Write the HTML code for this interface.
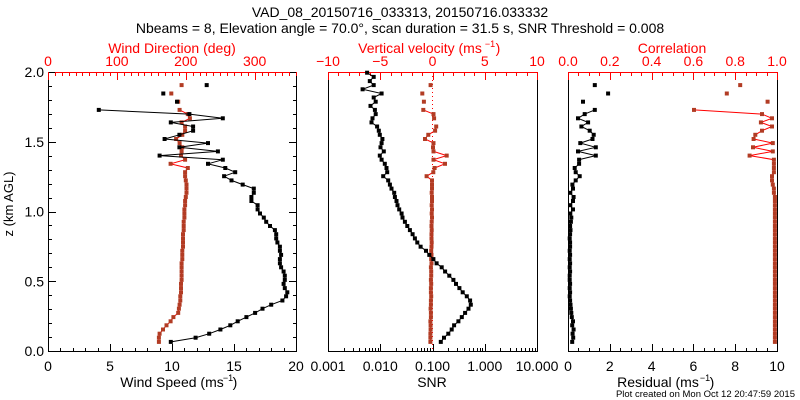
<!DOCTYPE html>
<html><head><meta charset="utf-8"><style>
html,body{margin:0;padding:0;background:#fff;}
svg{display:block;font-family:"Liberation Sans",sans-serif;}
</style></head><body>
<svg id="chart" width="800" height="400" viewBox="0 0 800 400">
<text x="400" y="17" text-anchor="middle" font-size="14">VAD_08_20150716_033313, 20150716.033332</text>
<text x="400" y="33" text-anchor="middle" font-size="14">Nbeams = 8, Elevation angle = 70.0°, scan duration = 31.5 s, SNR Threshold = 0.008</text>
<text x="20" y="211" text-anchor="middle" font-size="13" transform="rotate(-90 13 211)">z (km AGL)</text>
<text x="795" y="397" text-anchor="end" font-size="9.5">Plot created on Mon Oct 12 20:47:59 2015</text>
<g id="g"></g>
</svg>
<script>
const heights=[0.065,0.095,0.124,0.154,0.184,0.213,0.243,0.273,0.303,0.332,0.362,0.392,0.421,0.451,0.481,0.510,0.540,0.570,0.600,0.629,0.659,0.689,0.718,0.748,0.778,0.807,0.837,0.867,0.896,0.926,0.956,0.986,1.015,1.045,1.075,1.104,1.134,1.164,1.193,1.223,1.253,1.282,1.312,1.342,1.371,1.401,1.431,1.460,1.490,1.520,1.550,1.579,1.609,1.639,1.668,1.698,1.728,1.757,1.787,1.817,1.846,1.876,1.906,1.935,1.965,1.995];
const windSpeed=[9.9,11.9,13.0,13.9,14.7,15.3,16.0,16.7,17.3,18.0,18.9,19.2,19.3,19.1,19.0,19.1,19.1,19.0,18.8,18.7,18.7,18.8,18.7,18.7,18.5,18.4,18.4,18.3,17.9,17.6,17.4,17.1,16.9,16.9,16.4,16.4,16.6,16.6,15.7,14.8,14.2,15.1,14.3,12.9,14.1,9.0,13.7,10.6,12.9,9.4,10.6,11.7,11.7,9.9,14.1,11.4,4.1,null,10.4,null,9.3,null,12.8,null,null,null];
const windDir=[161,161,162,167,172,178,182,189,190,191,192,192,193,193,193,194,194,194,194,194,195,195,195,196,196,196,196,197,197,197,198,198,198,199,199,200,201,201,201,200,199,199,203,178,199,193,194,195,191,186,195,199,199,194,206,203,191,null,189,null,179,null,194,null,null,null];
const snr=[0.144,0.166,0.201,0.233,0.259,0.313,0.363,0.421,0.488,0.541,0.525,0.453,0.379,0.327,0.282,0.251,0.210,0.174,0.150,0.120,0.104,0.0869,0.0750,0.0593,0.0512,0.0461,0.0416,0.0370,0.0329,0.0296,0.0267,0.0256,0.0231,0.0214,0.0205,0.0191,0.0185,0.0164,0.0153,0.0142,0.0114,0.0136,0.0132,0.0122,0.0106,0.0098,0.0117,0.0101,0.0106,0.0110,0.0098,0.0094,0.0087,0.0068,0.0071,0.0082,0.0079,0.0065,0.0082,0.0075,0.0106,0.0046,0.0075,0.0063,0.0075,0.0056];
const wVel=[-0.2,-0.2,-0.2,-0.18,-0.18,-0.2,-0.15,-0.15,-0.18,-0.15,-0.15,-0.12,-0.15,-0.15,-0.12,-0.15,-0.12,-0.12,-0.15,-0.1,-0.12,-0.1,-0.12,-0.1,-0.08,-0.1,-0.1,-0.08,-0.1,-0.08,-0.05,-0.08,-0.05,-0.08,-0.05,-0.05,-0.08,-0.05,-0.05,-0.05,-0.56,0.08,0.2,1.2,0.1,1.36,0.1,0.05,0.1,-0.72,-0.4,0.25,0.35,null,0.15,0.1,-0.88,null,-0.82,null,-0.98,null,-0.18,null,null,null];
const corr=[0.99,0.99,0.99,0.99,0.99,0.99,0.99,0.99,0.99,0.99,0.99,0.99,0.99,0.99,0.99,0.99,0.99,0.99,0.99,0.99,0.99,0.99,0.99,0.99,0.99,0.99,0.99,0.99,0.99,0.99,0.99,0.99,0.99,0.99,0.99,0.99,0.985,0.985,0.98,0.976,0.976,0.985,0.985,0.985,0.985,0.869,0.98,0.885,0.98,0.888,0.896,0.928,0.976,0.923,0.976,0.928,0.603,null,0.955,null,0.76,null,0.824,null,null,null];
const residual=[0.2,0.25,0.22,0.27,0.2,0.24,0.18,0.16,0.14,0.12,0.1,0.08,0.1,0.08,0.1,0.08,0.08,0.1,0.08,0.1,0.08,0.1,0.08,0.1,0.1,0.08,0.1,0.12,0.1,0.14,0.16,0.11,0.24,0.11,0.24,0.27,0.11,0.24,0.21,0.37,0.56,0.37,0.32,0.53,0.53,1.33,0.48,1.33,0.59,1.17,1.23,1.04,0.64,0.96,0.48,0.8,1.28,null,0.72,null,1.92,null,1.28,null,null,null];
const speedTicks=[0,5,10,15,20];
const dirTicks=[0,100,200,300];
const wTicks=[-10,-5,0,5,10];
const snrTicks=[0.001,0.01,0.1,1,10];
const snrLabels=["0.001","0.010","0.100","1.000","10.000"];
const corrTicks=[0,0.2,0.4,0.6,0.8,1.0];
const resTicks=[0,2,4,6,8,10];
const zTicks=[0,0.5,1.0,1.5,2.0];

const NS='http://www.w3.org/2000/svg';
const G=document.getElementById('g');
function el(tag,attrs,parent){const e=document.createElementNS(NS,tag);for(const k in attrs)e.setAttribute(k,attrs[k]);(parent||G).appendChild(e);return e;}
const Y0=351,Y1=72;
const yz=z=>Y0-z/2*(Y0-Y1);
const lin=(a,b,x0,x1)=>v=>x0+(v-a)/(b-a)*(x1-x0);
const P=[[48,296],[328,537],[568,777]];
const xSpeed=lin(0,20,P[0][0],P[0][1]), xDir=lin(0,360,P[0][0],P[0][1]);
const xW=lin(-10,10,P[1][0],P[1][1]);
const xSnr=v=>lin(-3,1,P[1][0],P[1][1])(Math.log10(v));
const xCorr=lin(0,1,P[2][0],P[2][1]), xRes=lin(0,10,P[2][0],P[2][1]);
const RED='#ff0000',RUST='#b23c24';

function txt(x,y,s,opt,name){const t=el('text',Object.assign({x:x,y:y,'font-size':14,'text-anchor':'middle'},opt||{}));t.textContent=s;return t;}
function tick(x1,y1,x2,y2,c,name){const l=el('line',{x1:x1,y1:y1,x2:x2,y2:y2,stroke:c,'stroke-width':1});}

// frames
P.forEach((p,i)=>{const r=el('rect',{x:p[0]+0.5,y:Y1+0.5,width:p[1]-p[0],height:Y0-Y1,fill:'none',stroke:'#000'});

});
// red top axes lines
P.forEach((p,i)=>{tick(p[0],Y1+0.5,p[1]+1,Y1+0.5,RED,'top-axis-line-'+(i+1));});

// y ticks panel1
for(let k=0;k<=20;k++){const z=k*0.1,y=Math.round(yz(z))+0.5,len=(k%5==0)?8:4;
tick(P[0][0],y,P[0][0]+len,y,'#000','y-tick');tick(P[0][1]+1,y,P[0][1]+1-len,y,'#000','y-tick');}
zTicks.forEach(z=>txt(P[0][0]-4,yz(z)+5,z.toFixed(1),{'text-anchor':'end'},'y-tick-label'));

// panel1 bottom
for(let v=0;v<=20;v++){const x=Math.round(xSpeed(v))+0.5;tick(x,Y0+1,x,Y0+1-(v%5==0?8:4),'#000','x-tick-speed');}
speedTicks.forEach(v=>txt(xSpeed(v),371,String(v),{},'x-tick-label-speed'));
txt(172,387,'Wind Speed (ms',{},'x-axis-title-speed');
txt(228,381,'−1',{'font-size':9},'x-axis-title-speed-exp');
txt(235,387,')',{},'x-axis-title-speed-paren');
// panel1 top
for(let v=0;v<=360;v+=10){const x=Math.round(xDir(v))+0.5;tick(x,Y1,x,Y1+(v%100==0?8:4),RED,'x-tick-dir');}
dirTicks.forEach(v=>txt(xDir(v),66,String(v),{fill:RED},'x-tick-label-dir'));
txt(172,53,'Wind Direction (deg)',{fill:RED},'x-axis-title-dir');

// panel2 bottom log
for(let e=-3;e<1;e++){for(let m=1;m<10;m++){const v=m*Math.pow(10,e);const x=Math.round(xSnr(v))+0.5;tick(x,Y0+1,x,Y0+1-(m==1?8:4),'#000','x-tick-snr');}}
tick(P[1][1]+0.5,Y0+1,P[1][1]+0.5,Y0-7,'#000','x-tick-snr');
snrTicks.forEach((v,i)=>txt(xSnr(v),371,snrLabels[i],{},'x-tick-label-snr'));
txt(432,387,'SNR',{},'x-axis-title-snr');
// panel2 top
for(let v=-10;v<=10;v++){const x=Math.round(xW(v))+0.5;tick(x,Y1,x,Y1+(v%5==0?8:4),RED,'x-tick-w');}
wTicks.forEach(v=>txt(xW(v),66,(v<0?'−':'')+Math.abs(v),{fill:RED},'x-tick-label-w'));
txt(420,53,'Vertical velocity (ms',{fill:RED},'x-axis-title-w');
txt(490,47,'−1',{fill:RED,'font-size':9},'x-axis-title-w-exp');
txt(498,53,')',{fill:RED},'x-axis-title-w-paren');
// zero line
{const l=el('line',{x1:xW(0),y1:Y1,x2:xW(0),y2:Y0,stroke:RED,'stroke-dasharray':'1 3'});

}

// panel3 bottom
for(let k=0;k<=20;k++){const v=k*0.5;const x=Math.round(xRes(v))+0.5;tick(x,Y0+1,x,Y0+1-(k%4==0?8:4),'#000','x-tick-res');}
resTicks.forEach(v=>txt(xRes(v),371,String(v),{},'x-tick-label-res'));
txt(658,387,'Residual (ms',{},'x-axis-title-res');
txt(705,381,'−1',{'font-size':9},'x-axis-title-res-exp');
txt(712,387,')',{},'x-axis-title-res-paren');
// panel3 top
for(let k=0;k<=20;k++){const v=k*0.05;const x=Math.round(xCorr(v))+0.5;tick(x,Y1,x,Y1+(k%4==0?8:4),RED,'x-tick-corr');}
corrTicks.forEach(v=>txt(xCorr(v),66,v.toFixed(1),{fill:RED},'x-tick-label-corr'));
txt(672,53,'Correlation',{fill:RED},'x-axis-title-corr');

function series(vals,xf,lineC,markC,name){
  let segs=[],cur=[];
  vals.forEach((v,i)=>{if(v==null){if(cur.length)segs.push(cur);cur=[];}else cur.push([xf(v),yz(heights[i])]);});
  if(cur.length)segs.push(cur);
  segs.forEach(s=>{if(s.length>1){const pl=el('polyline',{points:s.map(p=>p[0].toFixed(1)+','+p[1].toFixed(1)).join(' '),fill:'none',stroke:lineC,'stroke-width':1});
  
  }});
  vals.forEach((v,i)=>{if(v==null)return;const r=el('rect',{x:(xf(v)-2).toFixed(1),y:(yz(heights[i])-2).toFixed(1),width:4,height:4,fill:markC});
  
  });
}
series(windDir,xDir,RED,RUST,'wind-direction');
series(windSpeed,xSpeed,'#000','#000','wind-speed');
series(wVel,xW,RED,RUST,'vertical-velocity');
series(snr,xSnr,'#000','#000','snr');
series(corr,xCorr,RED,RUST,'correlation');
series(residual,xRes,'#000','#000','residual');
</script>
</body></html>
